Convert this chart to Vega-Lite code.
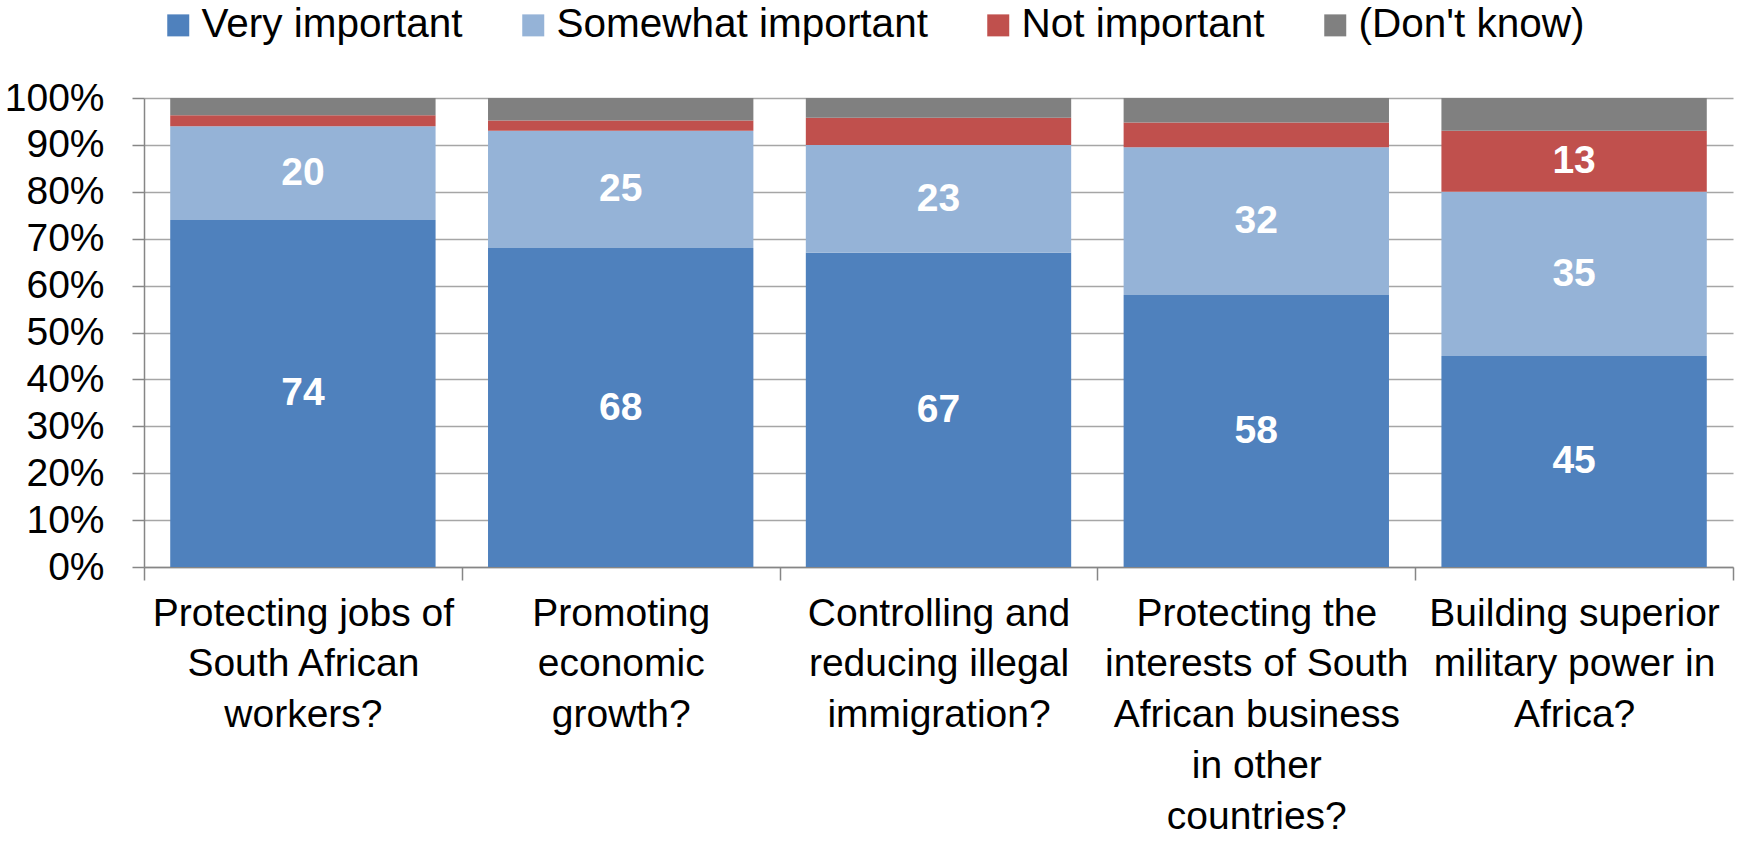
{
  "$schema": "https://vega.github.io/schema/vega-lite/v6.json",
  "width": 1589,
  "height": 469,
  "autosize": {"type": "none"},
  "padding": {"left": 144, "top": 98, "right": 9, "bottom": 279},
  "config": {
    "font": "Liberation Sans",
    "view": {"stroke": null}
  },
  "data": {
    "values": [
      {"q": "Protecting jobs of|South African|workers?", "series": "Very important", "rank": 1, "value": 74},
      {"q": "Protecting jobs of|South African|workers?", "series": "Somewhat important", "rank": 2, "value": 20},
      {"q": "Protecting jobs of|South African|workers?", "series": "Not important", "rank": 3, "value": 2.3},
      {"q": "Protecting jobs of|South African|workers?", "series": "(Don't know)", "rank": 4, "value": 3.7},
      {"q": "Promoting|economic|growth?", "series": "Very important", "rank": 1, "value": 68},
      {"q": "Promoting|economic|growth?", "series": "Somewhat important", "rank": 2, "value": 25},
      {"q": "Promoting|economic|growth?", "series": "Not important", "rank": 3, "value": 2.2},
      {"q": "Promoting|economic|growth?", "series": "(Don't know)", "rank": 4, "value": 4.8},
      {"q": "Controlling and|reducing illegal|immigration?", "series": "Very important", "rank": 1, "value": 67},
      {"q": "Controlling and|reducing illegal|immigration?", "series": "Somewhat important", "rank": 2, "value": 23},
      {"q": "Controlling and|reducing illegal|immigration?", "series": "Not important", "rank": 3, "value": 5.8},
      {"q": "Controlling and|reducing illegal|immigration?", "series": "(Don't know)", "rank": 4, "value": 4.2},
      {"q": "Protecting the|interests of South|African business|in other|countries?", "series": "Very important", "rank": 1, "value": 58},
      {"q": "Protecting the|interests of South|African business|in other|countries?", "series": "Somewhat important", "rank": 2, "value": 31.5},
      {"q": "Protecting the|interests of South|African business|in other|countries?", "series": "Not important", "rank": 3, "value": 5.3},
      {"q": "Protecting the|interests of South|African business|in other|countries?", "series": "(Don't know)", "rank": 4, "value": 5.2},
      {"q": "Building superior|military power in|Africa?", "series": "Very important", "rank": 1, "value": 45},
      {"q": "Building superior|military power in|Africa?", "series": "Somewhat important", "rank": 2, "value": 35},
      {"q": "Building superior|military power in|Africa?", "series": "Not important", "rank": 3, "value": 13},
      {"q": "Building superior|military power in|Africa?", "series": "(Don't know)", "rank": 4, "value": 7}
    ]
  },
  "encoding": {
    "x": {
      "field": "q",
      "type": "nominal",
      "sort": null,
      "title": null,
      "scale": {"paddingInner": 0, "paddingOuter": 0},
      "axis": {
        "title": null,
        "labelAngle": 0,
        "labelExpr": "split(datum.label, '|')",
        "labelFontSize": 39,
        "labelLineHeight": 50.8,
        "labelColor": "#000000",
        "labelLimit": 400,
        "labelPadding": 14,
        "tickSize": 13,
        "tickBand": "extent",
        "tickColor": "#868686",
        "tickWidth": 1.5,
        "domainColor": "#868686",
        "domainWidth": 1.5,
        "grid": false
      }
    }
  },
  "layer": [
    {
      "mark": {"type": "bar", "width": {"band": 0.835}},
      "encoding": {
        "y": {
          "field": "value",
          "type": "quantitative",
          "stack": "zero",
          "title": null,
          "scale": {"domain": [0, 100], "nice": false},
          "axis": {
            "title": null,
            "values": [0, 10, 20, 30, 40, 50, 60, 70, 80, 90, 100],
            "labelExpr": "datum.value + '%'",
            "labelFontSize": 39,
            "labelColor": "#000000",
            "labelPadding": 28,
            "tickSize": 12,
            "tickColor": "#868686",
            "tickWidth": 1.5,
            "domainColor": "#868686",
            "domainWidth": 1.5,
            "grid": true,
            "gridColor": "#a6a6a6",
            "gridWidth": 1.5
          }
        },
        "color": {
          "field": "series",
          "type": "nominal",
          "sort": ["Very important", "Somewhat important", "Not important", "(Don't know)"],
          "scale": {
            "domain": ["Very important", "Somewhat important", "Not important", "(Don't know)"],
            "range": ["#4F81BD", "#95B3D7", "#C0504D", "#808080"]
          },
          "legend": {
            "title": null,
            "orient": "none",
            "direction": "horizontal",
            "legendX": 14,
            "legendY": -93,
            "symbolType": "square",
            "symbolSize": 484,
            "symbolStrokeWidth": 0,
            "labelFontSize": 40.5,
            "labelColor": "#000000",
            "labelOffset": 3,
            "columnPadding": 50,
            "labelLimit": 600
          }
        },
        "order": {"field": "rank", "type": "quantitative"}
      }
    },
    {
      "transform": [
        {"stack": "value", "groupby": ["q"], "sort": [{"field": "rank", "order": "ascending"}], "as": ["y0", "y1"]},
        {"filter": "datum.value >= 10"},
        {"fold": ["y0", "y1"], "as": ["k", "yy"]}
      ],
      "mark": {"type": "text", "color": "#ffffff", "fontWeight": "bold", "fontSize": 39, "baseline": "middle"},
      "encoding": {
        "y": {"aggregate": "mean", "field": "yy", "type": "quantitative", "title": null},
        "text": {"field": "value", "type": "quantitative", "format": ".0f"},
        "detail": {"field": "series"}
      }
    }
  ]
}
